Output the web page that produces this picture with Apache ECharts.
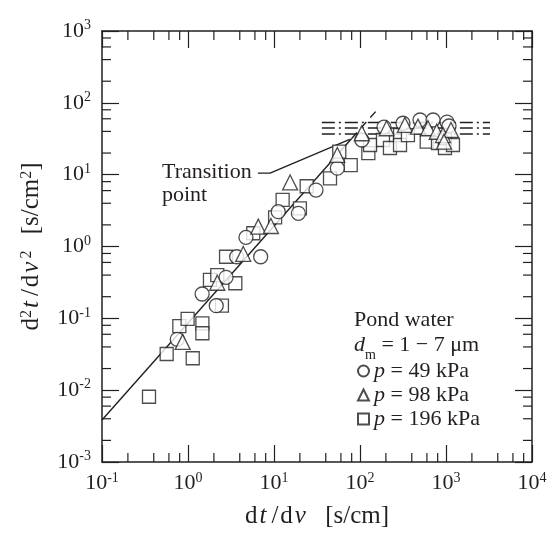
<!DOCTYPE html>
<html><head><meta charset="utf-8">
<script src="https://cdn.jsdelivr.net/npm/echarts@6/dist/echarts.min.js"></script>
<style>html,body{margin:0;padding:0;background:#fff}#c{width:555px;height:538px}</style>
</head><body><div id="c"></div>
<script>
// ---- data ----
const circle49X = [0.75, 1.46, 2.13, 2.77, 3.68, 7.0, 4.72, 11.2, 19.2, 30.8, 54.5, 105, 190, 316, 499, 707, 1028, 1084];
const circle49Y = [0.051, 0.218, 0.150, 0.372, 0.72, 0.72, 1.34, 3.05, 2.9, 6.1, 12.3, 30.4, 46, 52, 57.7, 57.7, 54, 47.6];
const triangle98X = [0.867, 2.19, 4.39, 6.56, 9.2, 15.4, 54.5, 105, 204, 333, 472, 618, 780, 923, 1143, 948];
const triangle98Y = [0.047, 0.313, 0.787, 1.89, 1.93, 7.8, 18.8, 37.7, 44.3, 49.2, 46.6, 44.3, 39.6, 35.6, 41.9, 28.8];
const square196X = [0.352, 0.565, 1.135, 0.793, 0.99, 1.47, 1.47, 1.8, 2.48, 3.55, 2.19, 2.77, 5.74, 10.3, 12.6, 20, 24, 44.8, 78, 57.4, 125, 131, 185, 223, 292, 292, 361, 597, 807, 973, 973, 1205];
const square196Y = [0.0081, 0.0319, 0.0278, 0.078, 0.098, 0.085, 0.062, 0.342, 0.150, 0.308, 0.40, 0.72, 1.53, 2.55, 4.45, 3.4, 6.9, 8.9, 13.6, 20.9, 19.9, 25.9, 30.4, 23.5, 35.6, 25.9, 35.6, 28.8, 27.6, 23.5, 32.4, 25.9];
const fitSolidX = [0.1, 80];
const fitSolidY = [0.00385, 31.9];
const fitDashX = [80, 166];
const fitDashY = [31.9, 85];
const plateauX = [36, 3250];
const plateauY = [53.2, 44.7, 36.8];
const leaderX = [6.5, 9.0, 76];
const leaderY = [10.5, 10.5, 31];
const xDecadeExps = [-1, 0, 1, 2, 3];
const yDecadeExps = [-3, -2, -1, 0, 1, 2];
const minorMultipliers = [2, 4, 6, 8];
const seriesNames = ['p = 49 kPa', 'p = 98 kPa', 'p = 196 kPa'];
const xMin = 0.1, xMax = 10000, yMin = 0.001, yMax = 1000;

const FONT = 'Liberation Serif';
const INK = '#231f20';
const zip = (a, b) => a.map((v, i) => [v, b[i]]);

const xMinor = [];
xDecadeExps.forEach(e => minorMultipliers.forEach(m => xMinor.push([m * Math.pow(10, e), yMin])));
const yMinor = [];
yDecadeExps.forEach(e => minorMultipliers.forEach(m => yMinor.push([xMin, m * Math.pow(10, e)])));

const tickRich = {
  b: {fontFamily: FONT, fontSize: 22, color: INK, lineHeight: 25},
  s: {fontFamily: FONT, fontSize: 14, color: INK, verticalAlign: 'top', lineHeight: 14}
};
const powLabel = v => '{b|10}{s|' + Math.round(Math.log10(v)) + '}';

const axisCommon = {
  type: 'log', logBase: 10,
  axisLine: {show: true, onZero: false, lineStyle: {color: INK, width: 1.5}},
  axisTick: {show: true, inside: true, length: 17, lineStyle: {color: INK, width: 1.2}},
  minorTick: {show: false},
  splitLine: {show: false}
};

const titleRich = {
  n: {fontFamily: FONT, fontSize: 25, color: INK},
  sl: {fontFamily: FONT, fontSize: 25, color: INK, padding: [0, 2, 0, 2]},
  i: {fontFamily: FONT, fontSize: 25, fontStyle: 'italic', color: INK, padding: [0, 3, 0, 2]},
  gap: {fontFamily: FONT, fontSize: 25, color: INK, padding: [0, 5, 0, 5]},
  sup: {fontFamily: FONT, fontSize: 16, color: INK, verticalAlign: 'top', lineHeight: 16}
};

const minorTickRender = (dir) => (params, api) => {
  const cs = params.coordSys;
  const p = api.coord([api.value(0), api.value(1)]);
  const st = {stroke: INK, lineWidth: 1.2};
  const L = 9;
  if (dir === 'x') {
    const b = cs.y + cs.height, t = cs.y;
    return {type: 'group', children: [
      {type: 'line', shape: {x1: p[0], y1: b, x2: p[0], y2: b - L}, style: st},
      {type: 'line', shape: {x1: p[0], y1: t, x2: p[0], y2: t + L}, style: st}
    ]};
  }
  const l = cs.x, r = cs.x + cs.width;
  return {type: 'group', children: [
    {type: 'line', shape: {x1: l, y1: p[1], x2: l + L, y2: p[1]}, style: st},
    {type: 'line', shape: {x1: r, y1: p[1], x2: r - L, y2: p[1]}, style: st}
  ]};
};

const markerStyle = {color: '#fff', borderColor: INK, borderWidth: 1.3};
const lineStyleSolid = {color: INK, width: 1.4};

const chart = echarts.init(document.getElementById('c'), null, {renderer: 'canvas'});
chart.setOption({
  animation: false,
  backgroundColor: '#fff',
  grid: {left: 102, right: 23, top: 31, bottom: 76, containLabel: false},
  xAxis: [
    Object.assign({}, axisCommon, {
      position: 'bottom', min: xMin, max: xMax,
      axisLabel: {margin: 9, formatter: powLabel, rich: tickRich},
      name: '{n|d}{i|t}{sl|/}{n|d}{i|v}{gap| }{n|[s/cm]}', nameLocation: 'middle', nameGap: 42,
      nameTextStyle: {rich: titleRich}
    }),
    Object.assign({}, axisCommon, {position: 'top', min: xMin, max: xMax, axisLabel: {show: false}})
  ],
  yAxis: [
    Object.assign({}, axisCommon, {
      position: 'left', min: yMin, max: yMax,
      axisLabel: {margin: 11, formatter: powLabel, rich: tickRich},
      name: '{n|d}{sup|2}{i|t}{sl|/}{n|d}{i|v}{sup|2}{gap| }{n|[s/cm}{sup|2}{n|]}', nameLocation: 'middle', nameGap: 58, nameRotate: 90,
      nameTextStyle: {rich: titleRich}
    }),
    Object.assign({}, axisCommon, {position: 'right', min: yMin, max: yMax, axisLabel: {show: false}})
  ],
  legend: {
    data: seriesNames, orient: 'vertical', left: 352, top: 355, itemGap: 2,
    itemWidth: 11, itemHeight: 11, selectedMode: false,
    formatter: n => '{i|p}{n|' + n.slice(1) + '}',
    textStyle: {rich: {
      n: {fontFamily: FONT, fontSize: 22, color: INK, lineHeight: 22},
      i: {fontFamily: FONT, fontSize: 22, fontStyle: 'italic', color: INK, lineHeight: 22}
    }}
  },
  graphic: [
    {type: 'text', left: 354, top: 309, style: {text: 'Pond water', font: '22px "Liberation Serif"', fill: INK}},
    {type: 'text', left: 354, top: 334, style: {
      text: '{i|d}{sub|m}{n| = 1 − 7 μm}', fill: INK,
      rich: {
        n: {fontFamily: FONT, fontSize: 22, color: INK},
        i: {fontFamily: FONT, fontSize: 22, fontStyle: 'italic', color: INK},
        sub: {fontFamily: FONT, fontSize: 14, color: INK, verticalAlign: 'bottom', lineHeight: 14, padding: [0, 0, -6, 0]}
      }}},
    {type: 'text', left: 162, top: 161, style: {text: 'Transition', font: '22px "Liberation Serif"', fill: INK}},
    {type: 'text', left: 162, top: 184, style: {text: 'point', font: '22px "Liberation Serif"', fill: INK}}
  ],
  series: [
    {type: 'custom', name: 'xminor', xAxisIndex: 0, yAxisIndex: 0, data: xMinor, renderItem: minorTickRender('x'), silent: true, clip: false, z: 1},
    {type: 'custom', name: 'yminor', xAxisIndex: 0, yAxisIndex: 0, data: yMinor, renderItem: minorTickRender('y'), silent: true, clip: false, z: 1},
    {type: 'line', name: 'fit', data: zip(fitSolidX, fitSolidY), symbol: 'none', lineStyle: lineStyleSolid, silent: true, z: 2},
    {type: 'line', name: 'fitdash', data: zip(fitDashX, fitDashY), symbol: 'none', lineStyle: {color: INK, width: 1.4, type: [8, 6]}, silent: true, z: 2},
    {type: 'line', name: 'leader', data: zip(leaderX, leaderY), symbol: 'none', lineStyle: {color: INK, width: 1.4}, silent: true, z: 2},
    ...plateauY.map((y, k) => ({type: 'line', name: 'plateau' + k, data: plateauX.map(x => [x, y]), symbol: 'none',
      lineStyle: {color: INK, width: 1.4, type: [13, 4, 2, 4]}, silent: true, z: 2})),
    {type: 'scatter', name: seriesNames[2], data: zip(square196X, square196Y), symbol: 'rect', symbolSize: 13, itemStyle: markerStyle, z: 3},
    {type: 'scatter', name: seriesNames[0], data: zip(circle49X, circle49Y), symbol: 'circle', symbolSize: 14, itemStyle: markerStyle, z: 3},
    {type: 'scatter', name: seriesNames[1], data: zip(triangle98X, triangle98Y), symbol: 'triangle', symbolSize: 15, itemStyle: markerStyle, z: 3}
  ]
});
</script></body></html>
